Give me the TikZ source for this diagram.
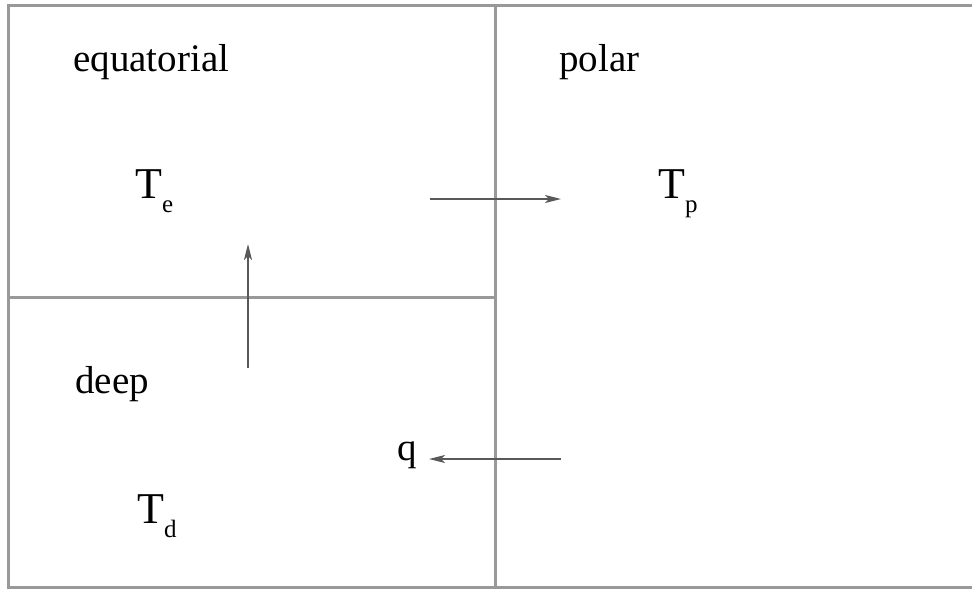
\documentclass[tikz,border=0pt]{standalone}
\usepackage{fontspec}
\setmainfont{Liberation Serif}
\usetikzlibrary{arrows.meta}
\tikzset{
  wall/.style={draw=black!40, line width=3pt},
  flow/.style={draw=black!65, line width=1.5pt, -{Stealth[length=16pt,width=8pt,inset=4pt]}},
  lbl/.style={anchor=base west, inner sep=0pt, font=\fontsize{39}{39}\selectfont},
  temp/.style={anchor=base west, inner sep=0pt, font=\fontsize{44}{44}\selectfont},
}
\newcommand{\mysub}[1]{\raisebox{-14pt}{\fontsize{25}{25}\selectfont #1}}
\begin{document}
\begin{tikzpicture}[x=1pt,y=-1pt]
\useasboundingbox (0,0) rectangle (972,590);
% walls
\draw[wall] (975,5) -- (8,5) -- (8,587) -- (975,587);
\draw[wall] (495,5) -- (495,587);
\draw[wall] (8,297) -- (495,297);
% labels
\node[lbl] (eq) at (73,71) {equatorial};
\node[lbl] (po) at (559,71) {polar};
\node[lbl] (de) at (75,393) {deep};
\node[temp] (te) at (135,198) {T\mysub{e}};
\node[temp] (tp) at (658,198) {T\mysub{p}};
\node[temp] (td) at (137,523) {T\mysub{d}};
\node[lbl] (q) at (397,460) {q};
% arrows
\coordinate (a1s) at (430,199);
\coordinate (a1e) at (561,199);
\coordinate (a2s) at (248,368);
\coordinate (a2e) at (248,244);
\coordinate (a3s) at (561,459);
\coordinate (a3e) at (429,459);
\draw[flow] (a1s) -- (a1e);
\draw[flow] (a2s) -- (a2e);
\draw[flow] (a3s) -- (a3e);
\end{tikzpicture}
\end{document}
